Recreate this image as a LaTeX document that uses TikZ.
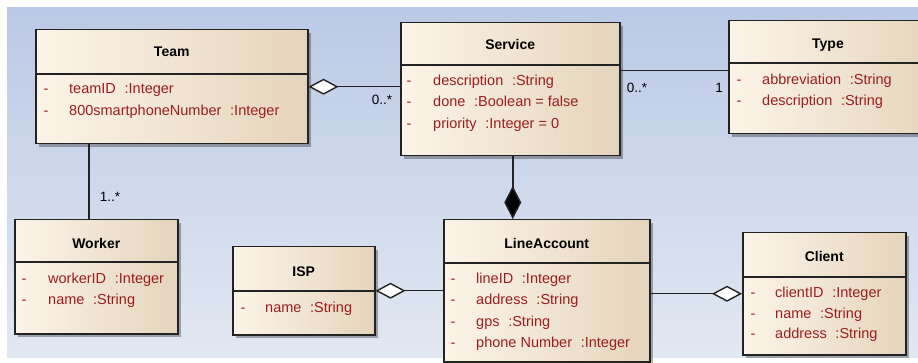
\documentclass[tikz,border=0pt]{standalone}
\usepackage{fontspec}
\setmainfont{Liberation Sans}
\usetikzlibrary{arrows.meta,shadows}

\definecolor{bgtop}{RGB}{186,201,229}
\definecolor{bgbot}{RGB}{226,232,242}
\definecolor{boxlight}{RGB}{252,244,232}
\definecolor{boxdark}{RGB}{229,212,188}
\definecolor{attrred}{RGB}{155,30,30}
\definecolor{edgegray}{RGB}{35,35,35}

\newcommand\attgap{\hspace{0.6em}}

\tikzset{
  classbox/.style={draw=edgegray, line width=1.5pt, anchor=north west, inner sep=0pt,
    left color=boxlight, right color=boxdark,
    drop shadow={shadow xshift=3pt, shadow yshift=-3pt, opacity=0.3, fill=black}},
  sepline/.style={draw=edgegray, line width=1.5pt},
  classname/.style={font=\fontsize{14}{16}\selectfont\bfseries, text=black, inner sep=0pt,
    text height=10.5pt, text depth=0pt, anchor=center},
  attdash/.style={font=\fontsize{14.5}{16}\selectfont, text=attrred, inner sep=0pt,
    text height=10.5pt, text depth=0pt, anchor=center},
  atttext/.style={font=\fontsize{14.5}{16}\selectfont, text=attrred, inner sep=0pt,
    text height=10.5pt, text depth=0pt, anchor=west},
  mult/.style={font=\fontsize{13.5}{15}\selectfont, text=black, inner sep=0pt,
    text height=10pt, text depth=0pt, anchor=center},
  assoc/.style={draw=edgegray, line width=1.5pt},
  aggr/.style={assoc, {Diamond[length=30pt, width=16pt, fill=white, line width=1.4pt]}-},
  compo/.style={assoc, {Diamond[length=33pt, width=17pt, fill=black]}-},
}

\begin{document}
\begin{tikzpicture}[x=1pt, y=-1pt]
  \clip (0,0) rectangle (918,363);
  \fill[white] (0,0) rectangle (918,363);
  % diagram canvas
  \shade[top color=bgtop, bottom color=bgbot] (7,8) rectangle (918,357);

  % ---- Team ----
  \node[classbox, minimum width=272pt, minimum height=114pt] (team) at (35,29) {};
  \draw[sepline] (team.west |- 0,74) -- (team.east |- 0,74);
  \node[classname] (teamT) at (team.center |- 0,51) {Team};
  \node[attdash] (teamD1) at (46,88) {-};
  \node[atttext] (teamA1) at (69,88) {teamID\attgap:Integer};
  \node[attdash] (teamD2) at (46,110) {-};
  \node[atttext] (teamA2) at (69,110) {800smartphoneNumber\attgap:Integer};

  % ---- Service ----
  \node[classbox, minimum width=219pt, minimum height=133pt] (service) at (400,22) {};
  \draw[sepline] (service.west |- 0,65) -- (service.east |- 0,65);
  \node[classname] (serviceT) at (service.center |- 0,44) {Service};
  \node[attdash] (serviceD1) at (409,80) {-};
  \node[atttext] (serviceA1) at (433,80) {description\attgap:String};
  \node[attdash] (serviceD2) at (409,101) {-};
  \node[atttext] (serviceA2) at (433,101) {done\attgap:Boolean = false};
  \node[attdash] (serviceD3) at (409,123) {-};
  \node[atttext] (serviceA3) at (433,123) {priority\attgap:Integer = 0};

  % ---- Type ----
  \node[classbox, minimum width=210pt, minimum height=113pt] (type) at (728,20) {};
  \draw[sepline] (type.west |- 0,63) -- (type.east |- 0,63);
  \node[classname] (typeT) at (828,43) {Type};
  \node[attdash] (typeD1) at (739,79) {-};
  \node[atttext] (typeA1) at (762,79) {abbreviation\attgap:String};
  \node[attdash] (typeD2) at (739,100) {-};
  \node[atttext] (typeA2) at (762,100) {description\attgap:String};

  % ---- Worker ----
  \node[classbox, minimum width=163pt, minimum height=114pt] (worker) at (14,219) {};
  \draw[sepline] (worker.west |- 0,262) -- (worker.east |- 0,262);
  \node[classname] (workerT) at (worker.center |- 0,243) {Worker};
  \node[attdash] (workerD1) at (24,278) {-};
  \node[atttext] (workerA1) at (48,278) {workerID\attgap:Integer};
  \node[attdash] (workerD2) at (24,299) {-};
  \node[atttext] (workerA2) at (48,299) {name\attgap:String};

  % ---- ISP ----
  \node[classbox, minimum width=142pt, minimum height=88pt] (isp) at (232,246) {};
  \draw[sepline] (isp.west |- 0,291) -- (isp.east |- 0,291);
  \node[classname] (ispT) at (isp.center |- 0,271) {ISP};
  \node[attdash] (ispD1) at (243,307) {-};
  \node[atttext] (ispA1) at (265,307) {name\attgap:String};

  % ---- LineAccount ----
  \node[classbox, minimum width=206pt, minimum height=142pt] (line) at (443,219) {};
  \draw[sepline] (line.west |- 0,263) -- (line.east |- 0,263);
  \node[classname] (lineT) at (line.center |- 0,243) {LineAccount};
  \node[attdash] (lineD1) at (453,278) {-};
  \node[atttext] (lineA1) at (476,278) {lineID\attgap:Integer};
  \node[attdash] (lineD2) at (453,299) {-};
  \node[atttext] (lineA2) at (476,299) {address\attgap:String};
  \node[attdash] (lineD3) at (453,321) {-};
  \node[atttext] (lineA3) at (476,321) {gps\attgap:String};
  \node[attdash] (lineD4) at (453,342) {-};
  \node[atttext] (lineA4) at (476,342) {phone Number\attgap:Integer};

  % ---- Client ----
  \node[classbox, minimum width=163pt, minimum height=122pt] (client) at (742,232) {};
  \draw[sepline] (client.west |- 0,277) -- (client.east |- 0,277);
  \node[classname] (clientT) at (client.center |- 0,256) {Client};
  \node[attdash] (clientD1) at (753,292) {-};
  \node[atttext] (clientA1) at (775,292) {clientID\attgap:Integer};
  \node[attdash] (clientD2) at (753,313) {-};
  \node[atttext] (clientA2) at (775,313) {name\attgap:String};
  \node[attdash] (clientD3) at (753,333) {-};
  \node[atttext] (clientA3) at (775,333) {address\attgap:String};

  % ---- relationships ----
  \draw[aggr] (team.east) -- (team.east -| service.west);
  \node[mult] (mTeamService) at (382,100) {0..*};

  \draw[assoc] ([yshift=6.5pt]type.west) -- ([yshift=6.5pt]type.west -| service.east);
  \node[mult] (mServiceType) at (637,88) {0..*};
  \node[mult] (mTypeOne) at (719,88) {1};

  \draw[compo] ([xshift=-34pt]line.north) -- ([xshift=-34pt]line.north |- service.south);

  \draw[assoc] ([xshift=-7.5pt]worker.north) -- ([xshift=-7.5pt]worker.north |- team.south);
  \node[mult] (mTeamWorker) at (110,197) {1..*};

  \draw[aggr] (isp.east) -- (isp.east -| line.west);
  \draw[aggr] (client.west) -- (client.west -| line.east);
\end{tikzpicture}
\end{document}
